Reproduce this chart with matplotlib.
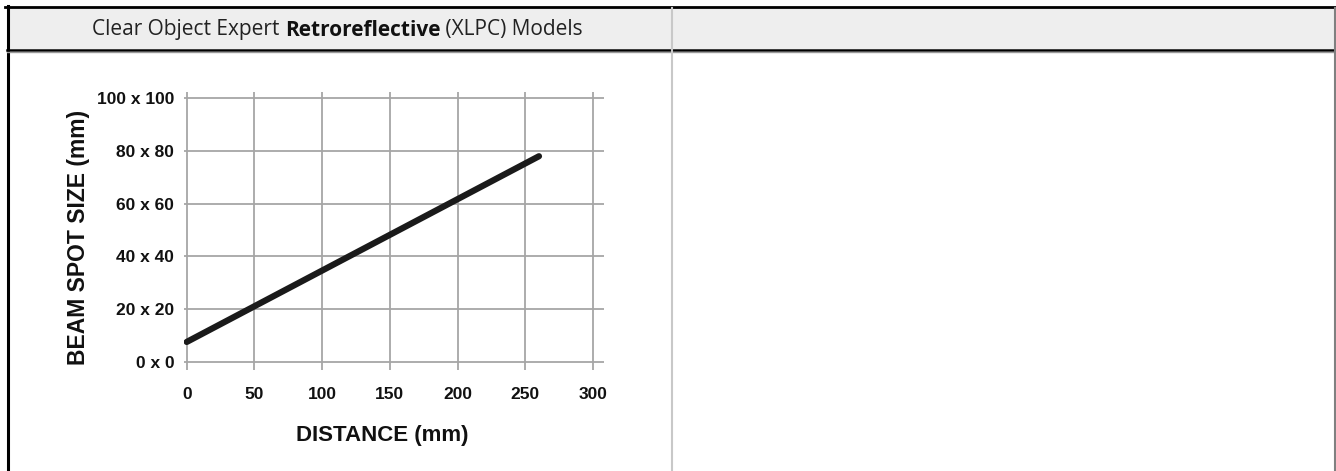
import matplotlib
matplotlib.use("Agg")
import matplotlib.pyplot as plt
from matplotlib import font_manager
from matplotlib.lines import Line2D
from matplotlib.patches import Rectangle

# ---- data ----
distance = [0, 260]           # mm
spot_size = [7.5, 78]         # mm (square spot side)
x_ticks = [0, 50, 100, 150, 200, 250, 300]
y_ticks = [0, 20, 40, 60, 80, 100]
y_tick_labels = ["0 x 0", "20 x 20", "40 x 40", "60 x 60", "80 x 80", "100 x 100"]
title_parts = ["Clear Object Expert ", "Retroreflective", " (XLPC) Models"]
x_label = "DISTANCE (mm)"
y_label = "BEAM SPOT SIZE (mm)"

W, H = 1336, 471


def pick(families):
    for f in families:
        try:
            font_manager.findfont(font_manager.FontProperties(family=f), fallback_to_default=False)
            return f
        except Exception:
            continue
    return "DejaVu Sans"


narrow = pick(["Liberation Sans Narrow", "Arial Narrow", "Liberation Sans", "DejaVu Sans"])
head = pick(["Open Sans", "Noto Sans", "DejaVu Sans"])

fig = plt.figure(figsize=(W / 100, H / 100), dpi=100)


def fx(px):
    return px / W


def fy(py):
    return 1 - py / H


# ---- frame / table decoration ----
fig.add_artist(Rectangle((fx(7), fy(49)), fx(1335) - fx(7), fy(8) - fy(49),
                         transform=fig.transFigure, facecolor="#eeeeee", edgecolor="none", zorder=0))
fig.add_artist(Line2D([fx(5), fx(1336)], [fy(7), fy(7)], transform=fig.transFigure, color="black", lw=2.0))
fig.add_artist(Line2D([fx(7.5), fx(7.5)], [fy(5.5), fy(471)], transform=fig.transFigure, color="black", lw=2.2))
fig.add_artist(Line2D([fx(7), fx(1336)], [fy(49.5), fy(49.5)], transform=fig.transFigure, color="black", lw=1.8))
fig.add_artist(Line2D([fx(7), fx(1336)], [fy(51.5), fy(51.5)], transform=fig.transFigure, color="#9a9a9a", lw=1.0))
fig.add_artist(Line2D([fx(672), fx(672)], [fy(8), fy(471)], transform=fig.transFigure, color="#c8c8c8", lw=1.5))
fig.add_artist(Line2D([fx(1334.5), fx(1334.5)], [fy(8), fy(471)], transform=fig.transFigure, color="#808080", lw=1.5))

# ---- header text ----
hs = 15.0
base = fy(35.5)
t1 = fig.text(fx(92), base, title_parts[0], fontsize=hs, family=head, color="#222222", va="baseline", ha="left")
t2 = fig.text(0, 0, title_parts[1], fontsize=hs, family=head, fontweight="bold", color="#111111", va="baseline", ha="left")
t3 = fig.text(0, 0, title_parts[2], fontsize=hs, family=head, color="#222222", va="baseline", ha="left")
fig.canvas.draw()
r = fig.canvas.get_renderer()
b1 = t1.get_window_extent(r)
t2.set_position((b1.x1 / W, base))
fig.canvas.draw()
b2 = t2.get_window_extent(r)
t3.set_position((b2.x1 / W, base))

# ---- chart ----
left, right, top, bottom = 184, 604, 91.7, 370
ax = fig.add_axes([fx(left), fy(bottom), fx(right) - fx(left), fy(top) - fy(bottom)])
ax.set_xlim(-2, 308)
ax.set_ylim(-3.15, 102.5)
for s in ax.spines.values():
    s.set_visible(False)
ax.set_facecolor("none")
ax.set_xticks(x_ticks)
ax.set_xticklabels([str(v) for v in x_ticks])
ax.set_yticks(y_ticks)
ax.set_yticklabels(y_tick_labels)
ax.grid(True, color="#a6a6a6", lw=1.3)
ax.set_axisbelow(True)
ax.tick_params(length=0)
ax.tick_params(axis="y", pad=7)
ax.tick_params(axis="x", pad=12)
for lab in ax.get_xticklabels() + ax.get_yticklabels():
    lab.set_fontfamily(narrow)
    lab.set_fontweight("bold")
    lab.set_fontsize(12.5)
    lab.set_color("#111111")

ax.plot(distance, spot_size, color="#1a1a1a", lw=4.5, solid_capstyle="round", zorder=3)

ax.set_xlabel(x_label, fontfamily=narrow, fontweight="bold", fontsize=16, labelpad=17, color="#111111")
ax.set_ylabel(y_label, fontfamily=narrow, fontweight="bold", fontsize=16.5, labelpad=5, color="#111111")
ax.xaxis.label.set_x(0.471)
ax.yaxis.label.set_y(0.475)

fig.savefig("out.png", dpi=100)
